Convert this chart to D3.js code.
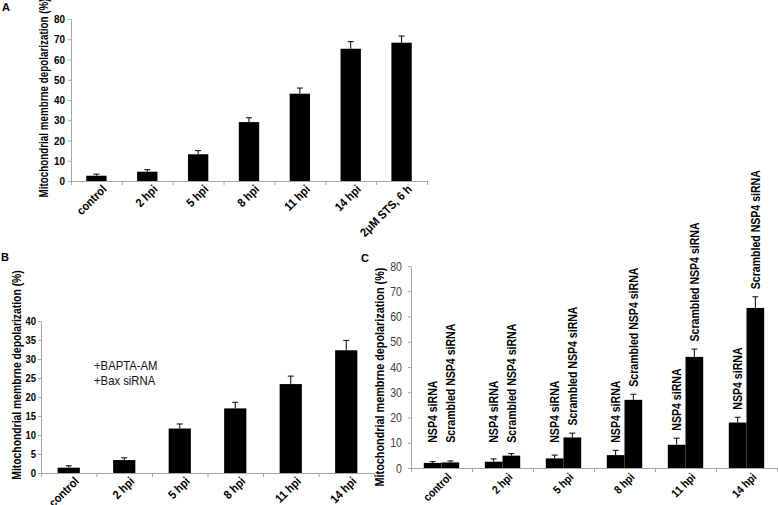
<!DOCTYPE html>
<html>
<head>
<meta charset="utf-8">
<script src="https://cdn.jsdelivr.net/npm/d3@7"></script>
<style>
body { margin: 0; background: #fff; }
svg { display: block; }
text { font-family: "Liberation Sans", Arial, sans-serif; }
</style>
</head>
<body>
<div id="chart"></div>
<script>
// panel A
const catsA = ['control', '2 hpi', '5 hpi', '8 hpi', '11 hpi', '14 hpi', '2\u03bcM  STS, 6 h'];
const valsA = [2.6, 4.6, 13.2, 29.1, 43.1, 65.3, 68.3];
const errA = [0.8, 1.0, 1.8, 2.1, 2.8, 3.5, 3.3];
const ticksA = [0, 10, 20, 30, 40, 50, 60, 70, 80];

// panel B
const catsB = ['control', '2 hpi', '5 hpi', '8 hpi', '11 hpi', '14 hpi'];
const valsB = [1.4, 3.4, 11.7, 17.0, 23.4, 32.3];
const errB = [0.5, 0.6, 1.2, 1.6, 2.1, 2.6];
const ticksB = [0, 5, 10, 15, 20, 25, 30, 35, 40];
const noteB = ['+BAPTA-AM', '+Bax siRNA'];

// panel C
const catsC = ['control', '2 hpi', '5 hpi', '8 hpi', '11 hpi', '14 hpi'];
const seriesC = ['NSP4 siRNA', 'Scrambled NSP4 siRNA'];
const nspC = [2.0, 2.5, 3.8, 5.1, 9.2, 18.0];
const nspErrC = [0.5, 1.1, 1.3, 1.9, 2.6, 2.1];
const scrC = [2.2, 4.9, 12.1, 27.0, 44.0, 63.4];
const scrErrC = [0.6, 0.8, 1.7, 2.2, 3.1, 4.4];
const ticksC = [0, 10, 20, 30, 40, 50, 60, 70, 80];

const yTitle = 'Mitochondrial membrne depolarization (%)';

const svg = d3.select('#chart').append('svg')
    .attr('width', 778)
    .attr('height', 505);

// narrow the glyphs of axis texts along their baseline
function squeeze(sel, k) {
    sel.each(function() {
        const t = d3.select(this);
        const x = +t.attr('x') || 0;
        t.attr('x', x / k).attr('transform', `scale(${k},1)`);
    });
}

function label(g, txt, x, y, o) {
    return g.append('text')
        .attr('transform', `translate(${x},${y}) rotate(${o.rot || 0}) scale(${o.k || 1},1)`)
        .attr('text-anchor', o.anchor || 'start')
        .attr('dy', o.dy || 0)
        .attr('font-size', o.size)
        .attr('font-weight', o.weight || 'bold')
        .attr('fill', o.fill || '#000')
        .text(txt);
}

function axes(g, o, n, y) {
    const ya = g.append('g')
        .attr('transform', `translate(${o.x0},0)`)
        .call(d3.axisLeft(y).tickValues(o.ticks).tickSize(3).tickSizeOuter(0).tickPadding(o.tickPad));
    ya.select('.domain').attr('stroke', '#a6a6a6');
    ya.selectAll('.tick line').attr('stroke', '#a6a6a6');
    ya.selectAll('.tick text')
        .attr('font-size', o.tickSize)
        .attr('font-weight', o.tickWeight)
        .attr('fill', o.tickFill)
        .attr('font-family', '"Liberation Sans", Arial, sans-serif')
        .call(squeeze, o.tickK);

    const xi = d3.scaleLinear().domain([0, n]).range([o.x0, o.x1]);
    const xa = g.append('g')
        .attr('transform', `translate(0,${o.y0})`)
        .call(d3.axisBottom(xi).tickValues(d3.range(0, n + 1)).tickSize(4).tickSizeOuter(0).tickFormat(''));
    xa.select('.domain').attr('stroke', '#a6a6a6');
    xa.selectAll('.tick line').attr('stroke', '#a6a6a6');
}

function errorBars(g, xs, vals, errs, y, cap) {
    vals.forEach((v, i) => {
        const top = y(v + errs[i]);
        g.append('line').attr('x1', xs[i]).attr('x2', xs[i])
            .attr('y1', y(v)).attr('y2', top).attr('stroke', '#000');
        g.append('line').attr('x1', xs[i] - cap).attr('x2', xs[i] + cap)
            .attr('y1', top).attr('y2', top).attr('stroke', '#000');
    });
}

function simplePanel(o) {
    const g = svg.append('g');
    const x = d3.scaleBand().domain(o.cats).range([o.x0, o.x1]).paddingInner(0.6).paddingOuter(0.3);
    const y = d3.scaleLinear().domain([0, o.max]).range([o.y0, o.y1]);
    axes(g, o, o.cats.length, y);

    g.append('g').selectAll('rect')
        .data(o.vals)
        .enter().append('rect')
        .attr('x', (d, i) => x(o.cats[i]))
        .attr('y', d => y(d))
        .attr('width', x.bandwidth())
        .attr('height', d => y(0) - y(d))
        .attr('fill', '#000');
    errorBars(g, o.cats.map(c => x(c) + x.bandwidth() / 2), o.vals, o.errs, y, 3);

    o.cats.forEach(c => {
        label(g, c, x(c) + x.bandwidth() / 2 + 8, o.y0 + 6,
            { rot: -45, anchor: 'end', dy: '0.35em', size: 12, k: 0.9 });
    });
    label(g, yTitle, o.titleX, o.titleY, { rot: -90, anchor: 'middle', dy: '0.35em', size: o.titleSize, k: o.titleK });
    return { g, x, y };
}

// ---- A ----
const A = simplePanel({
    cats: catsA, vals: valsA, errs: errA, ticks: ticksA, max: 80,
    x0: 71, x1: 427, y0: 181, y1: 19,
    tickSize: 11, tickWeight: 'bold', tickFill: '#000', tickK: 0.9, tickPad: 3,
    titleX: 44, titleY: 98, titleSize: 12, titleK: 0.82
});
label(A.g, 'A', 2, 11, { size: 11 });

// ---- B ----
const B = simplePanel({
    cats: catsB, vals: valsB, errs: errB, ticks: ticksB, max: 40,
    x0: 41, x1: 374, y0: 473, y1: 321,
    tickSize: 10.5, tickWeight: 'bold', tickFill: '#000', tickK: 0.9, tickPad: 2,
    titleX: 17, titleY: 375, titleSize: 12.5, titleK: 0.83
});
label(B.g, 'B', 1, 261, { size: 11 });
noteB.forEach((t, i) => label(B.g, t, 94, 370 + i * 15, { size: 13, weight: 'normal', k: 0.87, fill: '#111' }));

// ---- C ----
(function() {
    const o = {
        x0: 411, x1: 777, y0: 468, y1: 266, ticks: ticksC,
        tickSize: 12.5, tickWeight: 'normal', tickFill: '#404040', tickK: 0.85, tickPad: 6
    };
    const g = svg.append('g');
    const x = d3.scaleBand().domain(catsC).range([o.x0, o.x1]).paddingInner(0.42).paddingOuter(0.21);
    const xs = d3.scaleBand().domain(seriesC).range([0, x.bandwidth()]);
    const y = d3.scaleLinear().domain([0, 80]).range([o.y0, o.y1]);
    axes(g, o, catsC.length, y);

    const series = [
        { name: seriesC[0], vals: nspC, errs: nspErrC },
        { name: seriesC[1], vals: scrC, errs: scrErrC }
    ];
    series.forEach(s => {
        const cx = catsC.map(c => x(c) + xs(s.name) + xs.bandwidth() / 2);
        g.append('g').selectAll('rect')
            .data(s.vals)
            .enter().append('rect')
            .attr('x', (d, i) => x(catsC[i]) + xs(s.name))
            .attr('y', d => y(d))
            .attr('width', xs.bandwidth())
            .attr('height', d => y(0) - y(d))
            .attr('fill', '#000');
        errorBars(g, cx, s.vals, s.errs, y, 3);
        s.vals.forEach((v, i) => {
            const base = Math.max(v + s.errs[i] + 3, 10);
            label(g, s.name, cx[i], y(base), { rot: -90, anchor: 'start', dy: '0.35em', size: 12, k: 0.88 });
        });
    });

    catsC.forEach(c => {
        label(g, c, x(c) + x.bandwidth() / 2 + 8, o.y0 + 7,
            { rot: -45, anchor: 'end', dy: '0.35em', size: 11.5, k: 0.88 });
    });
    label(g, yTitle, 380, 377, { rot: -90, anchor: 'middle', dy: '0.35em', size: 12.5, k: 0.866 });
    label(g, 'C', 361, 262, { size: 11 });
})();
</script>
</body>
</html>
